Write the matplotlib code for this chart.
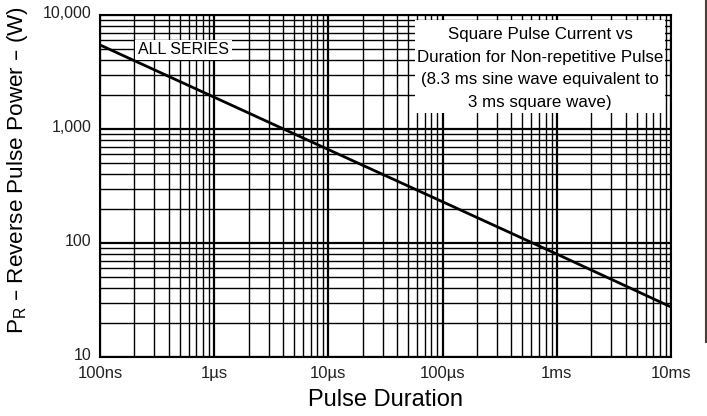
import matplotlib
matplotlib.use('Agg')
import matplotlib.pyplot as plt
import matplotlib.transforms as mtransforms
from matplotlib.ticker import FixedLocator, LogLocator, NullFormatter
from matplotlib.patches import Rectangle
from matplotlib.lines import Line2D

plt.rcParams['font.family'] = ['Liberation Sans', 'DejaVu Sans']

# pulse duration (s) vs reverse pulse power (W)
durations = [1e-7, 1e-6, 1e-5, 1e-4, 1e-3, 1e-2]
power = [5460, 1900, 660, 230, 80, 27.5]

x_ticks = [1e-7, 1e-6, 1e-5, 1e-4, 1e-3, 1e-2]
x_labels = ['100ns', '1\u00b5s', '10\u00b5s', '100\u00b5s', '1ms', '10ms']
y_ticks = [10, 100, 1000, 10000]
y_labels = ['10', '100', '1,000', '10,000']

note_lines = ['Square Pulse Current vs',
              'Duration for Non-repetitive Pulse',
              '(8.3 ms sine wave equivalent to',
              '3 ms square wave)']

fig = plt.figure(figsize=(7.07, 4.16), dpi=100)
ax = fig.add_axes([0.1414, 0.1418, 0.8076, 0.8222])

ax.set_xscale('log')
ax.set_yscale('log')
ax.set_xlim(1e-7, 1e-2)
ax.set_ylim(10, 10000)

ax.plot(durations, power, color='black', lw=2.0, zorder=5)

ax.xaxis.set_major_locator(FixedLocator(x_ticks))
ax.set_xticklabels(x_labels)
ax.yaxis.set_major_locator(FixedLocator(y_ticks))
ax.set_yticklabels(y_labels)
ax.xaxis.set_minor_locator(LogLocator(base=10, subs=range(2, 10)))
ax.yaxis.set_minor_locator(LogLocator(base=10, subs=range(2, 10)))
ax.xaxis.set_minor_formatter(NullFormatter())
ax.yaxis.set_minor_formatter(NullFormatter())

ax.tick_params(which='both', length=0)
ax.tick_params(axis='x', labelsize=12, pad=6.5, colors='#222222')
ax.tick_params(axis='y', labelsize=11.5, pad=6, colors='#222222')

# y tick labels sit a little above their grid lines in the original
shift_up = mtransforms.ScaledTranslation(0, 2.2 / 72, fig.dpi_scale_trans)
for lbl in ax.get_yticklabels():
    lbl.set_transform(lbl.get_transform() + shift_up)

ax.grid(which='major', color='black', lw=1.6)
ax.grid(which='minor', color='black', lw=1.0)
ax.set_axisbelow(True)
for s in ax.spines.values():
    s.set_linewidth(1.5)

ax.set_xlabel('Pulse Duration', fontsize=17, labelpad=6)
ax.set_ylabel('P$_\\mathregular{R}$ \u2013 Reverse Pulse Power \u2013 (W)', fontsize=16.2)
ax.yaxis.set_label_coords(-0.122, 0.547)

# white label boxes over the grid
ax.add_patch(Rectangle((0.061, 0.868), 0.17, 0.059, transform=ax.transAxes,
                       facecolor='white', edgecolor='none', zorder=3))
ax.text(0.146, 0.9, 'ALL SERIES', transform=ax.transAxes, ha='center', va='center',
        fontsize=11.5, zorder=4)

ax.add_patch(Rectangle((0.552, 0.713), 0.4375, 0.272, transform=ax.transAxes,
                       facecolor='white', edgecolor='none', zorder=3))
for i, line in enumerate(note_lines):
    ax.text(0.7706, 0.9415 - i * 0.0658, line, transform=ax.transAxes, ha='center',
            va='center', fontsize=12.2, zorder=4)

fig.add_artist(Line2D([705.5 / 707, 705.5 / 707], [1.0, 0.178], transform=fig.transFigure,
                      color='#4a3f3a', lw=1.5))

fig.savefig('out.png', dpi=100)
